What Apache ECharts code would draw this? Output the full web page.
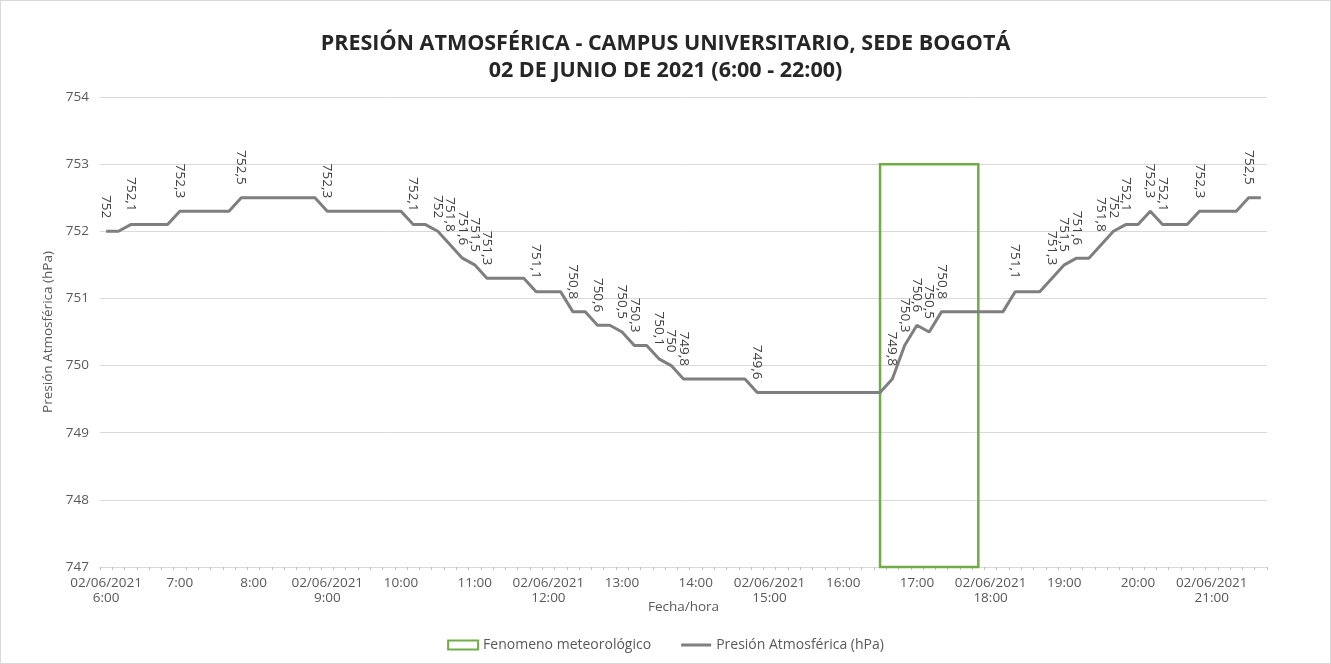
<!DOCTYPE html>
<html>
<head>
<meta charset="utf-8">
<title>Presión atmosférica</title>
<script src="https://cdn.jsdelivr.net/npm/echarts@6/dist/echarts.min.js"></script>
<style>
  html, body { margin: 0; padding: 0; background: #fff; }
  #chart { width: 1329px; height: 662px; border: 1px solid #d9d9d9; }
</style>
</head>
<body>
<div id="chart"></div>
<script>
// fecha de la medición
const fecha = '02/06/2021'

// una lectura cada 10 minutos, 6:00 - 21:40
const horas = [
  '6:00', '6:10', '6:20', '6:30', '6:40', '6:50',
  '7:00', '7:10', '7:20', '7:30', '7:40', '7:50',
  '8:00', '8:10', '8:20', '8:30', '8:40', '8:50',
  '9:00', '9:10', '9:20', '9:30', '9:40', '9:50',
  '10:00', '10:10', '10:20', '10:30', '10:40', '10:50',
  '11:00', '11:10', '11:20', '11:30', '11:40', '11:50',
  '12:00', '12:10', '12:20', '12:30', '12:40', '12:50',
  '13:00', '13:10', '13:20', '13:30', '13:40', '13:50',
  '14:00', '14:10', '14:20', '14:30', '14:40', '14:50',
  '15:00', '15:10', '15:20', '15:30', '15:40', '15:50',
  '16:00', '16:10', '16:20', '16:30', '16:40', '16:50',
  '17:00', '17:10', '17:20', '17:30', '17:40', '17:50',
  '18:00', '18:10', '18:20', '18:30', '18:40', '18:50',
  '19:00', '19:10', '19:20', '19:30', '19:40', '19:50',
  '20:00', '20:10', '20:20', '20:30', '20:40', '20:50',
  '21:00', '21:10', '21:20', '21:30', '21:40'
]

const presion = [
  752, 752, 752.1, 752.1, 752.1, 752.1,
  752.3, 752.3, 752.3, 752.3, 752.3, 752.5,
  752.5, 752.5, 752.5, 752.5, 752.5, 752.5,
  752.3, 752.3, 752.3, 752.3, 752.3, 752.3,
  752.3, 752.1, 752.1, 752, 751.8, 751.6,
  751.5, 751.3, 751.3, 751.3, 751.3, 751.1,
  751.1, 751.1, 750.8, 750.8, 750.6, 750.6,
  750.5, 750.3, 750.3, 750.1, 750, 749.8,
  749.8, 749.8, 749.8, 749.8, 749.8, 749.6,
  749.6, 749.6, 749.6, 749.6, 749.6, 749.6,
  749.6, 749.6, 749.6, 749.6, 749.8, 750.3,
  750.6, 750.5, 750.8, 750.8, 750.8, 750.8,
  750.8, 750.8, 751.1, 751.1, 751.1, 751.3,
  751.5, 751.6, 751.6, 751.8, 752, 752.1,
  752.1, 752.3, 752.1, 752.1, 752.1, 752.3,
  752.3, 752.3, 752.3, 752.5, 752.5
]

// recuadro del fenómeno meteorológico
const fenomenoInicio = '16:30'
const fenomenoFin = '17:50'
const fenomenoMin = 747
const fenomenoMax = 753

const yMin = 747
const yMax = 754

const font = '"Open Sans", "Noto Sans", sans-serif'
const verde = '#70ad47'
const gris = '#7f7f7f'

// etiqueta solo donde cambia el valor
const datos = presion.map((v, i) => ({
  value: v,
  label: { show: i === 0 || v !== presion[i - 1] }
}))

const chart = echarts.init(document.getElementById('chart'))
chart.setOption({
  animation: false,
  textStyle: { fontFamily: font },
  title: {
    text: 'PRESIÓN ATMOSFÉRICA - CAMPUS UNIVERSITARIO, SEDE BOGOTÁ\n02 DE JUNIO DE 2021 (6:00 - 22:00)',
    left: 'center',
    top: 24,
    textStyle: {
      fontFamily: font,
      fontSize: 21.5,
      fontWeight: 'bold',
      color: '#262626',
      lineHeight: 27
    }
  },
  grid: {
    left: 99,
    right: 63,
    top: 96,
    bottom: 96,
    containLabel: false
  },
  legend: {
    bottom: 6,
    left: 'center',
    itemWidth: 30,
    itemHeight: 9,
    itemGap: 30,
    textStyle: { fontFamily: font, fontSize: 14, color: '#595959' },
    data: [
      {
        name: 'Fenomeno meteorológico',
        icon: 'rect',
        itemStyle: { color: 'rgba(0,0,0,0)', borderColor: verde, borderWidth: 2 }
      },
      {
        name: 'Presión Atmosférica (hPa)',
        icon: 'path://M0,0 L30,0 L30,3 L0,3 Z',
        itemStyle: { color: gris, borderWidth: 0 }
      }
    ]
  },
  xAxis: {
    type: 'category',
    data: horas,
    boundaryGap: true,
    name: 'Fecha/hora',
    nameLocation: 'middle',
    nameGap: 33,
    nameMoveOverlap: false,
    nameTextStyle: { fontFamily: font, fontSize: 13.5, color: '#595959' },
    axisLine: { lineStyle: { color: '#d9d9d9' } },
    axisTick: {
      show: true,
      interval: 0,
      length: 3,
      lineStyle: { color: '#bfbfbf' }
    },
    axisLabel: {
      interval: (idx, val) => val.endsWith(':00'),
      color: '#595959',
      fontSize: 13.5,
      lineHeight: 15,
      margin: 9,
      formatter: (val) => {
        const h = parseInt(val, 10)
        return h % 3 === 0 ? fecha + '\n' + val : val
      }
    },
    splitLine: { show: false }
  },
  yAxis: {
    type: 'value',
    min: yMin,
    max: yMax,
    interval: 1,
    name: 'Presión Atmosférica (hPa)',
    nameLocation: 'middle',
    nameGap: 45,
    nameTextStyle: { fontFamily: font, fontSize: 13.5, color: '#595959' },
    axisLine: { show: false },
    axisTick: { show: false },
    axisLabel: { color: '#595959', fontSize: 13.5, margin: 11 },
    splitLine: { lineStyle: { color: '#d9d9d9', width: 1 } }
  },
  series: [
    {
      name: 'Fenomeno meteorológico',
      type: 'line',
      data: [],
      itemStyle: { color: verde },
      markArea: {
        silent: true,
        itemStyle: { color: 'rgba(0,0,0,0)', borderColor: verde, borderWidth: 2.5 },
        data: [[
          { xAxis: fenomenoInicio, yAxis: fenomenoMin },
          { xAxis: fenomenoFin, yAxis: fenomenoMax }
        ]]
      }
    },
    {
      name: 'Presión Atmosférica (hPa)',
      type: 'line',
      data: datos,
      symbol: 'circle',
      symbolSize: 0,
      showSymbol: true,
      z: 3,
      lineStyle: { color: gris, width: 3 },
      itemStyle: { color: gris },
      label: {
        position: 'top',
        distance: 13,
        rotate: -90,
        align: 'right',
        verticalAlign: 'middle',
        fontSize: 13.5,
        color: '#404040',
        formatter: (p) => String(p.value).replace('.', ',')
      }
    }
  ]
})
</script>
</body>
</html>
